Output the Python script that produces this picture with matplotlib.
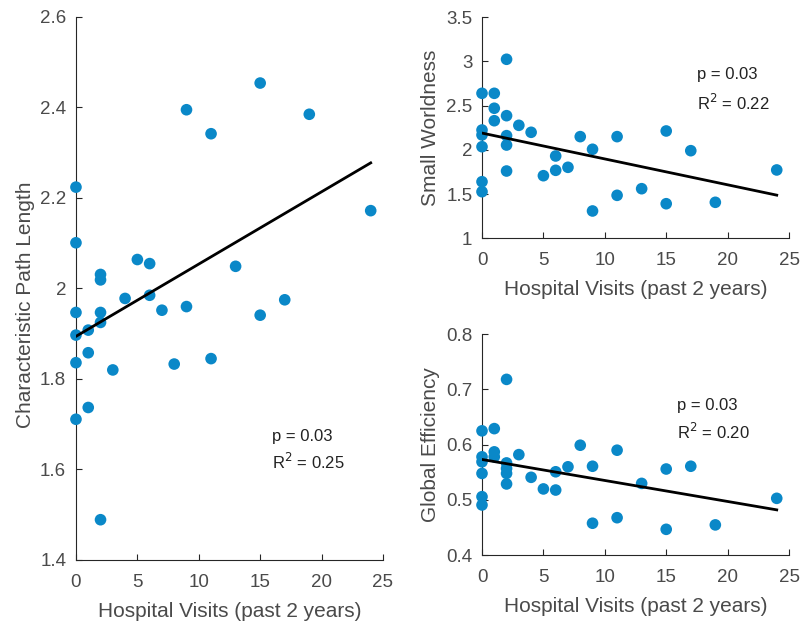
import numpy as np
import matplotlib.pyplot as plt

plt.rcParams['font.family'] = ['Liberation Sans', 'DejaVu Sans']

# hospital visits per subject (same subjects in every panel)
visits_cpl = [0, 0, 2, 2, 5, 6, 9, 11, 15, 19, 24, 13, 4, 6, 17, 0,
              2, 2, 0, 1, 7, 9, 15, 1, 0, 3, 8, 11, 1, 0, 2]
cpl = [2.224, 2.101, 2.031, 2.019, 2.064, 2.055, 2.395, 2.342, 2.454, 2.385,
       2.172, 2.049, 1.978, 1.985, 1.975, 1.947, 1.947, 1.925, 1.897, 1.908,
       1.952, 1.960, 1.941, 1.858, 1.836, 1.820, 1.833, 1.845, 1.737, 1.711,
       1.489]

visits_sw = [0, 1, 2, 1, 1, 2, 3, 4, 0, 0, 0, 2, 2, 2, 0, 0,
             5, 6, 6, 7, 8, 9, 9, 11, 11, 13, 15, 15, 17, 19, 24]
small_world = [2.640, 2.640, 3.025, 2.471, 2.330, 2.387, 2.278, 2.199, 2.225,
               2.169, 2.036, 2.161, 2.055, 1.761, 1.640, 1.527, 1.708, 1.931,
               1.769, 1.803, 2.150, 2.007, 1.309, 2.150, 1.486, 1.561, 2.214,
               1.391, 1.991, 1.407, 1.773]

visits_ge = [0, 0, 0, 0, 0, 0, 1, 1, 1, 2, 2, 2, 2, 2, 3, 4,
             5, 6, 6, 7, 8, 9, 9, 11, 11, 13, 15, 15, 17, 19, 24]
glob_eff = [0.625, 0.578, 0.569, 0.548, 0.506, 0.491, 0.629, 0.587, 0.578,
            0.718, 0.567, 0.557, 0.548, 0.529, 0.582, 0.541, 0.520, 0.551,
            0.518, 0.560, 0.599, 0.561, 0.458, 0.590, 0.468, 0.530, 0.556,
            0.447, 0.561, 0.455, 0.503]

stats = [('p = 0.03', 'R$^2$ = 0.25'),
         ('p = 0.03', 'R$^2$ = 0.22'),
         ('p = 0.03', 'R$^2$ = 0.20')]

dot_col = '#0a88c8'
txt_col = '#4a4a4a'

fig = plt.figure(figsize=(8.09, 6.22), dpi=100)
ax1 = fig.add_axes([0.0939, 0.0997, 0.3795, 0.873])
ax2 = fig.add_axes([0.5958, 0.6169, 0.3795, 0.3553])
ax3 = fig.add_axes([0.5958, 0.1072, 0.3795, 0.3558])

panels = [
    (ax1, visits_cpl, cpl, 'Characteristic Path Length', (1.4, 2.6),
     np.arange(1.4, 2.61, 0.2), ['1.4', '1.6', '1.8', '2', '2.2', '2.4', '2.6'],
     (16, 1.674, 1.617)),
    (ax2, visits_sw, small_world, 'Small Worldness', (1, 3.5),
     np.arange(1, 3.51, 0.5), ['1', '1.5', '2', '2.5', '3', '3.5'],
     (17.5, 2.85, 2.53)),
    (ax3, visits_ge, glob_eff, 'Global Efficiency', (0.4, 0.8),
     np.arange(0.4, 0.81, 0.1), ['0.4', '0.5', '0.6', '0.7', '0.8'],
     (15.9, 0.670, 0.623)),
]

for i, (ax, x, y, lab, ylim, yt, ytl, tpos) in enumerate(panels):
    x = np.array(x)
    y = np.array(y)
    ax.scatter(x, y, s=70, color=dot_col, edgecolors='none', zorder=3,
               clip_on=False)
    slope, icpt = np.polyfit(x, y, 1)
    xx = np.array([0, x.max()])
    ax.plot(xx, icpt + slope*xx, color='black', lw=2, zorder=4)

    ax.set_xlim(0, 25)
    ax.set_ylim(*ylim)
    ax.set_xticks([0, 5, 10, 15, 20, 25])
    ax.set_yticks(yt)
    ax.set_yticklabels(ytl)
    ax.spines['top'].set_visible(False)
    ax.spines['right'].set_visible(False)
    for s in ['left', 'bottom']:
        ax.spines[s].set_color('#262626')
        ax.spines[s].set_linewidth(0.8)
    ax.tick_params(direction='in', length=4, width=0.8, colors='#262626',
                   labelcolor=txt_col, labelsize=13.5, pad=7)
    ax.tick_params(axis='x', pad=10)
    ax.set_xlabel('Hospital Visits (past 2 years)', fontsize=15,
                  color=txt_col, labelpad=8)
    ax.set_ylabel(lab, fontsize=15, color=txt_col, labelpad=4)

    tx, ty1, ty2 = tpos
    ax.text(tx, ty1, stats[i][0], fontsize=12, color='#222222', va='center')
    ax.text(tx, ty2, stats[i][1], fontsize=12, color='#222222', va='center')

# long label on the tall panel sits a little below the middle
ax1.yaxis.set_label_coords(-0.135, 0.47)

fig.savefig('out.png', dpi=100)
